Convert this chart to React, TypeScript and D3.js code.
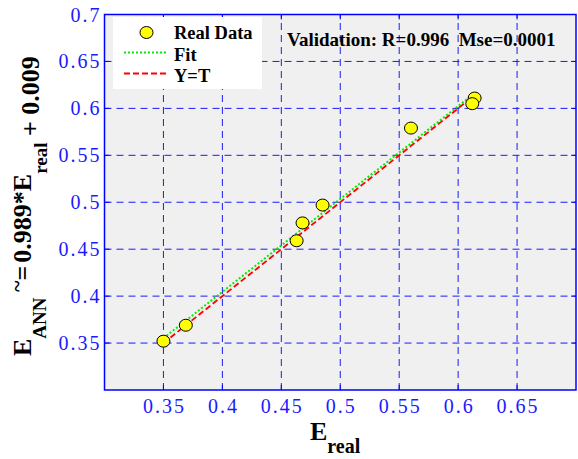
import React from 'react';
import * as d3 from 'd3';

// measured points, E_real vs E_ANN
const eReal = [0.35, 0.369, 0.463, 0.468, 0.485, 0.56, 0.614, 0.612];
const eAnn = [0.352, 0.369, 0.459, 0.478, 0.497, 0.579, 0.611, 0.605];
const ticks = [0.35, 0.4, 0.45, 0.5, 0.55, 0.6, 0.65];
const yTicks = [0.35, 0.4, 0.45, 0.5, 0.55, 0.6, 0.65, 0.7];
const fitSlope = 0.989;
const fitIntercept = 0.009;
const legendItems = ['Real Data', 'Fit', 'Y=T'];
const statsText = 'Validation: R=0.996  Mse=0.0001';

const W = 578, H = 459;
const margin = { top: 14.5, right: 2, bottom: 69, left: 104.5 };
const blue = '#1a1aff';
const serif = 'Liberation Serif, Times New Roman, serif';

export default function App() {
  const x = d3.scaleLinear().domain([0.3, 0.7]).range([margin.left, W - margin.right]);
  const y = d3.scaleLinear().domain([0.3, 0.7]).range([H - margin.bottom, margin.top]);
  const [x0, x1] = x.range();
  const [y0, y1] = y.range();

  const xMin = d3.min(eReal) as number;
  const xMax = d3.max(eReal) as number;
  const line = d3.line<number>().x(d => x(d)).y(d => y(fitSlope * d + fitIntercept));
  const ident = d3.line<number>().x(d => x(d)).y(d => y(d));

  return (
    <svg width={W} height={H} style={{ position: 'absolute', left: 0, top: 0 }}
         fontFamily={serif}>
      <rect x={0} y={0} width={W} height={H} fill="#fff" />
      <rect x={x0} y={y1} width={x1 - x0} height={y0 - y1} fill="#f0f0f0" />

      {/* grid */}
      <g stroke={blue} strokeWidth={1} strokeDasharray="7,5">
        {ticks.map(t => <line key={'v' + t} x1={x(t)} x2={x(t)} y1={y0} y2={y1} />)}
        {ticks.map(t => <line key={'h' + t} x1={x0} x2={x1} y1={y(t)} y2={y(t)} />)}
      </g>

      {/* lines */}
      <path d={line([xMin, xMax]) as string} stroke="#00ee00" strokeWidth={2}
            strokeDasharray="2,2" fill="none" />
      <path d={ident([xMin, xMax]) as string} stroke="#ff0000" strokeWidth={1.8}
            strokeDasharray="6,3" fill="none" />

      {/* points */}
      {eReal.map((v, i) => (
        <ellipse key={i} cx={x(v)} cy={y(eAnn[i])} rx={6.5} ry={6}
                 fill="#ffff00" stroke="#000" strokeWidth={1} />
      ))}

      {/* box + ticks */}
      <rect x={x0} y={y1} width={x1 - x0} height={y0 - y1} fill="none" stroke="#0000ff" strokeWidth={1.5} />
      <g stroke="#0000ff" strokeWidth={1}>
        {ticks.map(t => (
          <g key={'t' + t}>
            <line x1={x(t)} x2={x(t)} y1={y0} y2={y0 - 5} />
            <line x1={x(t)} x2={x(t)} y1={y1} y2={y1 + 5} />
            <line x1={x0} x2={x0 + 5} y1={y(t)} y2={y(t)} />
            <line x1={x1} x2={x1 - 5} y1={y(t)} y2={y(t)} />
          </g>
        ))}
      </g>

      {/* tick labels */}
      <g fill={blue} fontSize={20} letterSpacing={2} fontFamily="Liberation Serif">
        {ticks.map(t => (
          <text key={'xl' + t} x={x(t) + 1} y={y0 + 23} textAnchor="middle">{String(t)}</text>
        ))}
        {yTicks.map(t => (
          <text key={'yl' + t} x={x0 - 3} y={y(t) + 7} textAnchor="end">{String(t)}</text>
        ))}
      </g>

      {/* legend */}
      <rect x={113} y={17} width={149} height={72} fill="#fff" />
      <ellipse cx={146.5} cy={32.5} rx={6.5} ry={6} fill="#ffff00" stroke="#000" strokeWidth={1} />
      <line x1={124} x2={166} y1={52.5} y2={52.5} stroke="#00ee00" strokeWidth={2} strokeDasharray="2,2" />
      <line x1={124} x2={166} y1={73.5} y2={73.5} stroke="#ff0000" strokeWidth={1.8} strokeDasharray="6,3" />
      <g fontSize={18.5} fontWeight="bold" fill="#000">
        {legendItems.map((s, i) => (
          <text key={s} x={174} y={39 + i * 21.5}>{s}</text>
        ))}
      </g>

      {/* stats */}
      <text x={287} y={46} fontSize={19} fontWeight="bold" fill="#000"
            style={{ whiteSpace: 'pre' }}>{statsText}</text>

      {/* x title */}
      <text x={310} y={440} fontWeight="bold" fill="#000" fontSize={26}>
        E<tspan fontSize={20} dy={13}>real</tspan>
      </text>

      {/* y title */}
      <text transform="translate(31,356) rotate(-90)" fontWeight="bold" fill="#000" fontSize={26}>
        E<tspan fontSize={19} dy={15}>ANN</tspan>
        <tspan dy={-22} fontSize={22}> ~</tspan>
        <tspan dy={7}>=</tspan>
        <tspan dx={3}>0.989*E</tspan>
        <tspan fontSize={19} dy={16}>real</tspan>
        <tspan dy={-8}> + 0.009</tspan>
      </text>
    </svg>
  );
}
